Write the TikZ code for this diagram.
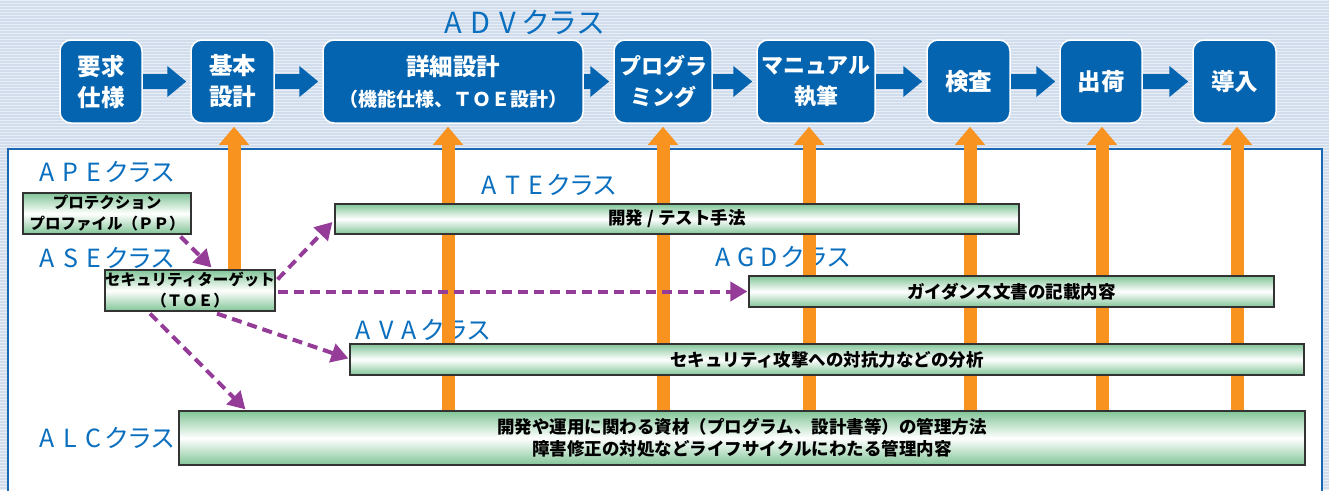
\documentclass[tikz,border=0pt]{standalone}
\usepackage{fontspec}
\newfontfamily\jp{Noto Sans CJK JP}
\usetikzlibrary{arrows.meta,calc}
\definecolor{bgblue}{HTML}{D1DDED}
\definecolor{stripe}{HTML}{E8EEF6}
\definecolor{boxblue}{HTML}{0464B0}
\definecolor{lblblue}{HTML}{0A6FBE}
\definecolor{orng}{HTML}{F7931E}
\definecolor{purp}{HTML}{953C98}
\definecolor{grn}{HTML}{82C598}
\definecolor{panelblue}{HTML}{1A68B4}
\newcommand\clsname[4]{\makebox[#4]{#1}\makebox[#4]{#2}\makebox[#4]{#3}\makebox[#4]{ク}\makebox[#4]{ラ}\makebox[#4]{ス}}
\begin{document}
\begin{tikzpicture}[x=1pt,y=-1pt,
  bbox/.style={fill=boxblue, draw=white, line width=1.5pt, rounded corners=11pt, inner sep=0pt, align=center, text=white, minimum height=83pt, font=\jp\bfseries\fontsize{23.5}{31}\selectfont},
  bboxs/.style={bbox, font=\jp\bfseries\fontsize{22}{31}\selectfont},
  gbox/.style={draw=black!80, line width=1.2pt, top color=grn, bottom color=grn, middle color=white, inner sep=0pt, align=center, font=\jp\bfseries\fontsize{17.5}{22}\selectfont},
  sbox/.style={gbox, font=\jp\bfseries\fontsize{15.5}{21}\selectfont},
  cls/.style={text=lblblue, font=\jp\fontsize{25}{28}\selectfont, inner sep=0pt},
  flow/.style={draw=boxblue, line width=15pt, -{Triangle[width=30pt,length=19pt]}, shorten >=4pt},
  up/.style={draw=orng, line width=13pt, -{Triangle[width=29pt,length=18pt]}, shorten >=3pt},
  dep/.style={draw=purp, line width=4pt, dash pattern=on 10pt off 6pt, -{Triangle[width=19pt,length=17pt]}},
]
\useasboundingbox (0,0) rectangle (1329,490);
\clip (0,0) rectangle (1329,490);
% background
\fill[bgblue] (0,0) rectangle (1329,490);
\foreach \yy in {0,3,...,489} {\fill[stripe] (0,\yy) rectangle (1329,\yy+1.3);}
% panel
\draw[line width=2.5pt, draw=panelblue, fill=white] (8,149) rectangle (1322,500);

% top process boxes
\node[bbox, minimum width=82pt] (req) at (101,81.5) {要求\\仕様};
\node[bbox, minimum width=83pt] (bas) at (232.5,81.5) {基本\\設計};
\node[bbox, minimum width=260pt] (det) at (453,81.5) {詳細設計\\{\fontsize{19}{31}\selectfont （機能仕様、ＴＯＥ設計）}};
\node[bboxs, minimum width=98pt] (prg) at (663,81.5) {プログラ\\ミング};
\node[bboxs, minimum width=118pt] (man) at (816,81.5) {マニュアル\\執筆};
\node[bbox, minimum width=83pt] (ins) at (968.5,81.5) {検査};
\node[bbox, minimum width=82pt] (shp) at (1101,81.5) {出荷};
\node[bbox, minimum width=83pt] (imp) at (1234.5,81.5) {導入};

\draw[flow] (req) -- (bas);
\draw[flow] (bas) -- (det);
\draw[flow] (det) -- (prg);
\draw[flow] (prg) -- (man);
\draw[flow] (man) -- (ins);
\draw[flow] (ins) -- (shp);
\draw[flow] (shp) -- (imp);

% class labels
\node[cls, font=\jp\fontsize{29}{32}\selectfont] (adv) at (522,22) {\clsname{A}{D}{V}{27.5pt}};
\node[cls] (ape) at (105,172) {\clsname{A}{P}{E}{23pt}};
\node[cls] (ase) at (105,258) {\clsname{A}{S}{E}{23pt}};
\node[cls] (ate-l) at (547,185) {\clsname{A}{T}{E}{23pt}};
\node[cls] (agd-l) at (781,257) {\clsname{A}{G}{D}{23pt}};
\node[cls] (ava-l) at (421,330) {\clsname{A}{V}{A}{23pt}};
\node[cls] (alc-l) at (105,438) {\clsname{A}{L}{C}{23pt}};

% orange upward arrows
\coordinate (u1) at (234,285);
\coordinate (u2) at (448,430);
\coordinate (u3) at (663,430);
\coordinate (u4) at (809,430);
\coordinate (u5) at (970,430);
\coordinate (u6) at (1102,430);
\coordinate (u7) at (1237,430);
\draw[up] (u1) -- (u1 |- bas.south);
\draw[up] (u2) -- (u2 |- det.south);
\draw[up] (u3) -- (u3 |- prg.south);
\draw[up] (u4) -- (u4 |- man.south);
\draw[up] (u5) -- (u5 |- ins.south);
\draw[up] (u6) -- (u6 |- shp.south);
\draw[up] (u7) -- (u7 |- imp.south);

% green boxes
\node[sbox, minimum width=168pt, minimum height=41pt] (pp) at (107,213.5) {プロテクション\\プロファイル（ＰＰ）};
\node[sbox, minimum width=170pt, minimum height=41pt] (toe) at (190,290.5) {セキュリティターゲット\\（ＴＯＥ）};
\node[gbox, minimum width=684pt, minimum height=30pt] (ate) at (677,219) {開発 / テスト手法};
\node[gbox, minimum width=525pt, minimum height=31pt] (agd) at (1011.5,291.5) {ガイダンス文書の記載内容};
\node[gbox, minimum width=954pt, minimum height=31pt] (ava) at (827,359.5) {セキュリティ攻撃への対抗力などの分析};
\node[gbox, minimum width=1126pt, minimum height=54pt] (alc) at (742,438) {開発や運用に関わる資材（プログラム、設計書等）の管理方法\\障害修正の対処などライフサイクルにわたる管理内容};

% purple dashed dependencies
\draw[dep] ($(pp.south east)+(-11,2)$) -- ($(toe.north west)+(107,-2)$);
\draw[dep] ($(toe.north east)+(2,10)$) -- ($(ate.west)+(-2,3)$);
\draw[dep] ($(toe.east)+(2,1)$) -- ($(toe.east -| agd.west)+(-1,1)$);
\draw[dep] ($(toe.south)+(27,2)$) -- ($(ava.west)+(-1,-1)$);
\draw[dep] ($(toe.south)+(-40,2)$) -- ($(alc.north west)+(67,-1)$);
\end{tikzpicture}
\end{document}
